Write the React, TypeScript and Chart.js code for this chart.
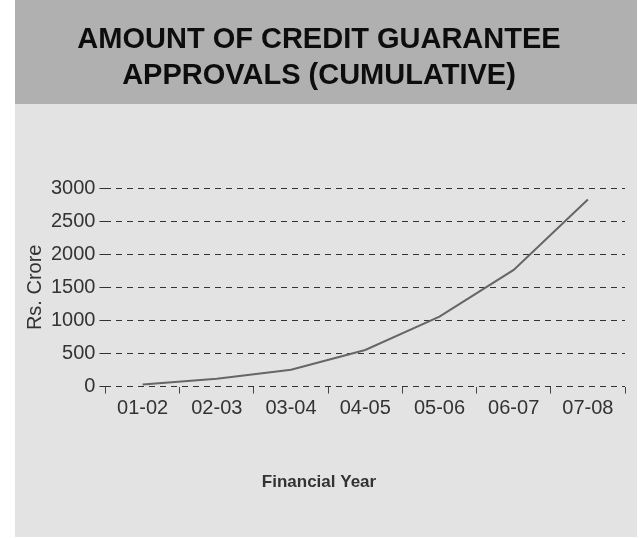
import React, { useEffect, useRef } from "react";
import { Chart, registerables } from "chart.js";

Chart.register(...registerables);

const titleLines = ["AMOUNT OF CREDIT GUARANTEE", "APPROVALS (CUMULATIVE)"];
const categories = ["01-02", "02-03", "03-04", "04-05", "05-06", "06-07", "07-08"];
const approvals = [30, 118, 254, 553, 1058, 1762, 2826];
const yAxisTitle = "Rs. Crore";
const xAxisTitle = "Financial Year";

const FONT = "'Liberation Sans', Arial, Helvetica, sans-serif";

const backgroundPlugin = {
  id: "pageBackground",
  beforeDraw(chart: any) {
    const { ctx, width, height } = chart;
    ctx.save();
    ctx.fillStyle = "#ffffff";
    ctx.fillRect(0, 0, width, height);
    ctx.fillStyle = "#e3e3e3";
    ctx.fillRect(15, 0, 622, 537);
    ctx.fillStyle = "#b0b0b0";
    ctx.fillRect(15, 0, 622, 104);
    ctx.restore();
  },
};

export default function App() {
  const ref = useRef<HTMLCanvasElement>(null);
  useEffect(() => {
    if (!ref.current) return;
    const chart = new Chart(ref.current, {
      type: "line",
      data: {
        labels: categories,
        datasets: [
          {
            data: approvals,
            borderColor: "#666666",
            borderWidth: 2,
            pointRadius: 0,
            tension: 0,
            fill: false,
          },
        ],
      },
      options: {
        animation: false,
        responsive: false,
        layout: { padding: { left: 13, right: 19, top: 0, bottom: 45 } },
        plugins: {
          legend: { display: false },
          tooltip: { enabled: false },
          title: {
            display: true,
            text: titleLines,
            color: "#0d0d0d",
            font: { family: FONT, size: 29, weight: "bold", lineHeight: 36 / 29 },
            padding: { top: 22, bottom: 94 },
          },
          subtitle: {
            display: true,
            position: "bottom",
            text: xAxisTitle,
            color: "#333333",
            font: { family: FONT, size: 17, weight: "bold", lineHeight: 1.2 },
            padding: { top: 49, bottom: 0 },
          },
        },
        scales: {
          x: {
            offset: true,
            grid: {
              offset: true,
              drawOnChartArea: false,
              drawTicks: true,
              tickLength: 7,
              tickColor: "#444444",
              tickWidth: 1,
            },
            border: { display: false },
            ticks: {
              color: "#333333",
              padding: 3,
              maxRotation: 0,
              font: { family: FONT, size: 20 },
            },
          },
          y: {
            min: 0,
            max: 3000,
            ticks: {
              stepSize: 500,
              color: "#333333",
              padding: 4,
              font: { family: FONT, size: 20 },
              callback: (v: any) => String(v),
            },
            grid: {
              color: "#333333",
              lineWidth: 1,
              drawTicks: true,
              tickLength: 6,
              tickColor: "#333333",
              tickBorderDash: [6, 5],
            },
            border: { display: false, dash: [6, 5] },
            title: {
              display: true,
              text: yAxisTitle,
              color: "#333333",
              font: { family: FONT, size: 20, lineHeight: 1.2 },
              padding: { top: 10, bottom: 0 },
            },
          },
        },
      },
      plugins: [backgroundPlugin],
    });
    return () => chart.destroy();
  }, []);
  return (
    <div style={{ position: "absolute", left: 0, top: 0, width: 644, height: 538 }}>
      <canvas ref={ref} width={644} height={538} style={{ display: "block" }} />
    </div>
  );
}
